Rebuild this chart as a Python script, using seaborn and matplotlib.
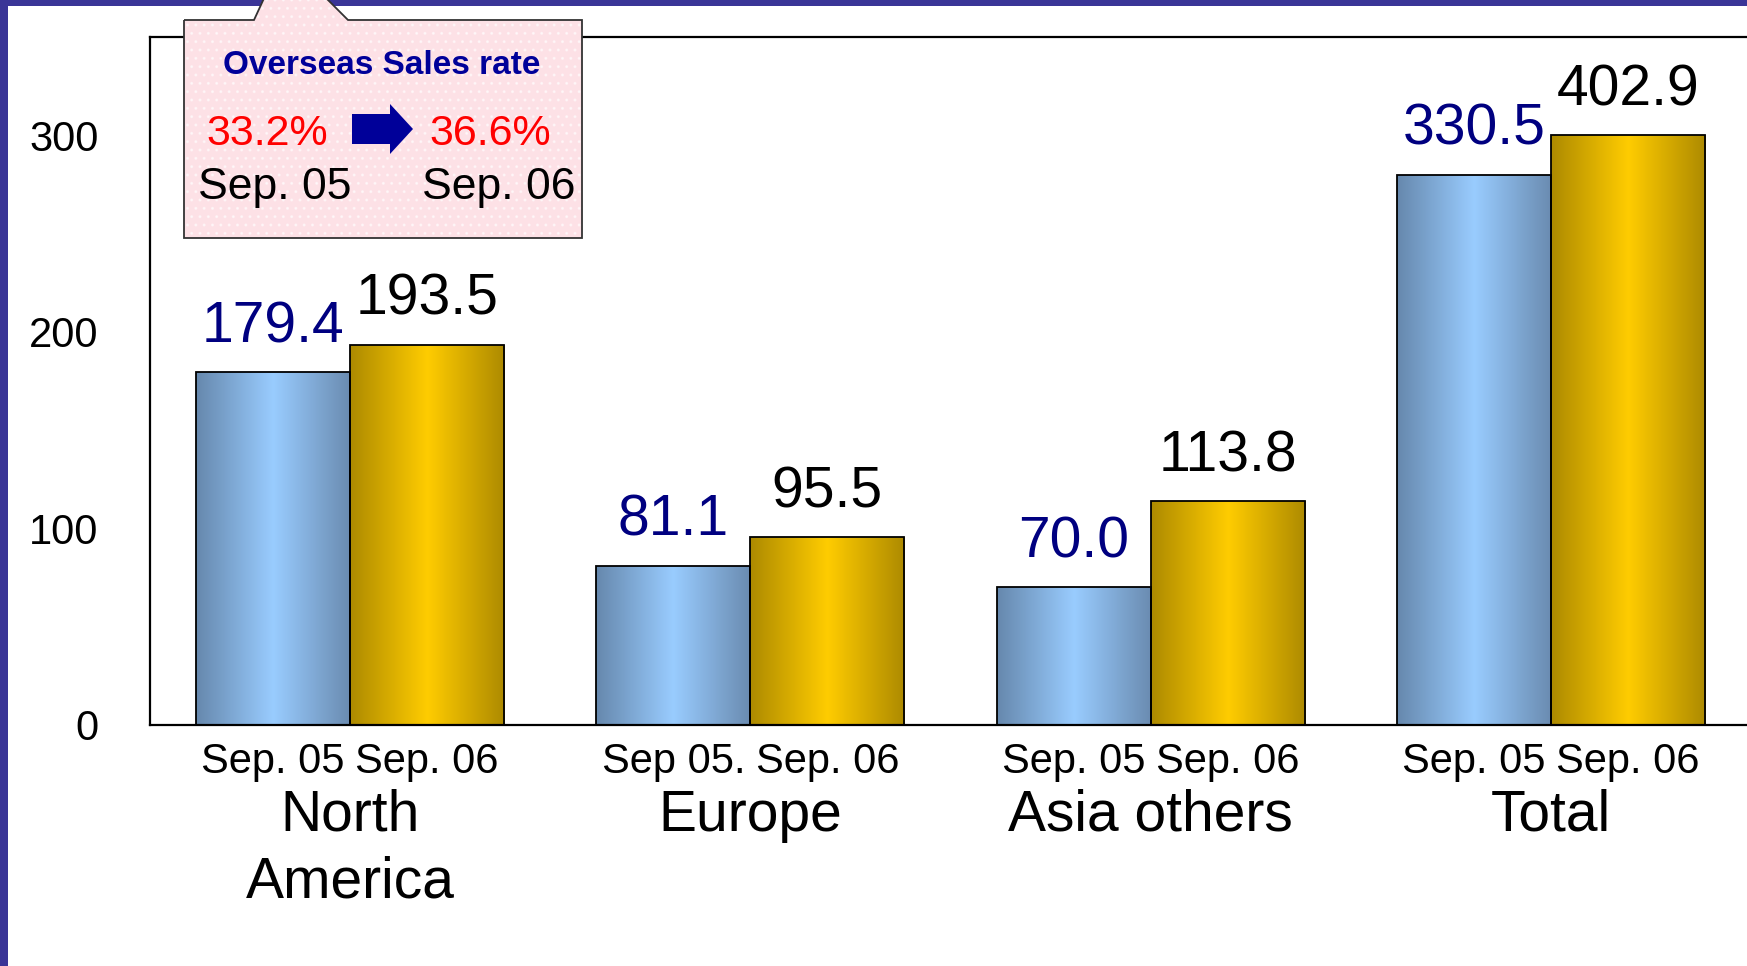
import numpy as np
import pandas as pd
import seaborn as sns
import matplotlib.pyplot as plt
from matplotlib.colors import LinearSegmentedColormap
from matplotlib.patches import Rectangle, Polygon

regions = ["North\nAmerica", "Europe", "Asia others", "Total"]
periods = ["Sep. 05", "Sep. 06"]
sep05_values = ["179.4", "81.1", "70.0", "330.5"]
sep06_values = ["193.5", "95.5", "113.8", "402.9"]
# heights as drawn in the original (the Total pair is compressed there)
sep05_heights = [179.4, 81.1, 70.0, 280.0]
sep06_heights = [193.5, 95.5, 113.8, 300.0]
bar_labels_05 = ["Sep. 05", "Sep 05.", "Sep. 05", "Sep. 05"]
bar_labels_06 = ["Sep. 06", "Sep. 06", "Sep. 06", "Sep. 06"]
yticks = [0, 100, 200, 300]
rate_title = "Overseas Sales rate"
rate_05 = "33.2%"
rate_06 = "36.6%"

W, H = 1747, 966


def fx(x):
    return x / W


def fy(y):
    return 1 - y / H


sns.set_style("white")
plt.rcParams['font.family'] = ['Liberation Sans', 'DejaVu Sans']
plt.rcParams['text.color'] = 'black'
plt.rcParams['xtick.color'] = 'black'
plt.rcParams['ytick.color'] = 'black'

fig = plt.figure(figsize=(W / 100, H / 100), dpi=100)
ax = fig.add_axes([fx(150), fy(725), fx(1751) - fx(150), fy(37) - fy(725)])

df = pd.DataFrame({
    "region": regions * 2,
    "period": [periods[0]] * 4 + [periods[1]] * 4,
    "height": sep05_heights + sep06_heights,
})
sns.barplot(data=df, x="region", y="height", hue="period", order=regions,
            hue_order=periods, palette=["#99ccff", "#ffcc00"], saturation=1,
            width=0.77, errorbar=None, edgecolor="black", linewidth=1.3,
            legend=False, ax=ax)

# gradient fill on every bar
blue_cmap = LinearSegmentedColormap.from_list("b", ["#6688ad", "#99ccff", "#6a8bb0"])
gold_cmap = LinearSegmentedColormap.from_list("g", ["#ad8a00", "#ffcc00", "#ad8a00"])
grad = np.linspace(0, 1, 256).reshape(1, -1)

bars = sorted(ax.patches, key=lambda p: p.get_x())
centers = []
labels = []
for i, p in enumerate(bars):
    g, k = divmod(i, 2)
    x0, w, h = p.get_x(), p.get_width(), p.get_height()
    im = ax.imshow(grad, extent=[x0, x0 + w, 0, h], aspect="auto",
                   cmap=blue_cmap if k == 0 else gold_cmap, zorder=0.9)
    im.set_clip_path(p)
    p.set_facecolor("none")
    centers.append(x0 + w / 2)
    labels.append(bar_labels_05[g] if k == 0 else bar_labels_06[g])
    txt = sep05_values[g] if k == 0 else sep06_values[g]
    ax.annotate(txt, xy=(x0 + w / 2, h), xytext=(0, 13), textcoords="offset points",
                ha="center", va="bottom", fontsize=41,
                color="#000080" if k == 0 else "black")

ax.set_xlim(-0.5, 3.5)
ax.set_ylim(0, 350)
ax.set_xlabel("")
ax.set_ylabel("")

ax.set_yticks(yticks)
ax.tick_params(axis="y", direction="in", length=10, width=1.2, labelsize=30, pad=37)
ax.set_xticks(centers)
ax.set_xticklabels(labels)
ax.tick_params(axis="x", length=0, labelsize=30, pad=12)
ax.set_xticks([0.5, 1.5, 2.5], minor=True)
ax.tick_params(axis="x", which="minor", direction="in", length=14, width=1.2)

for side in ["left", "top", "bottom"]:
    ax.spines[side].set_visible(True)
    ax.spines[side].set_color("black")
    ax.spines[side].set_linewidth(1.6)
ax.spines["right"].set_visible(False)

for i, r in enumerate(regions):
    ax.annotate(r, xy=(i, 0), xycoords=("data", "axes fraction"), xytext=(0, -46),
                textcoords="offset points", ha="center", va="top", fontsize=41,
                linespacing=1.3)

# blue frame on top and left
border = "#3a3597"
fig.add_artist(Rectangle((0, fy(6)), 1, 6 / H, transform=fig.transFigure,
                         facecolor=border, edgecolor="none", zorder=4))
fig.add_artist(Rectangle((0, 0), fx(8), 1, transform=fig.transFigure,
                         facecolor=border, edgecolor="none", zorder=4))

# callout box
box_pts = [(184, 20), (254, 20), (266, -6), (322, -6), (348, 20), (582, 20),
           (582, 238), (184, 238)]
box_xy = [(fx(x), fy(y)) for x, y in box_pts]
fig.add_artist(Polygon(box_xy, closed=True, transform=fig.transFigure,
                       facecolor="#fde1e6", edgecolor="none", zorder=5))
fig.add_artist(Polygon(box_xy, closed=True, transform=fig.transFigure,
                       facecolor="none", edgecolor="white", hatch="..", lw=0,
                       alpha=0.5, zorder=5.1))
fig.add_artist(Polygon(box_xy, closed=True, transform=fig.transFigure,
                       facecolor="none", edgecolor="#333333", lw=1.3, zorder=5.2))

fig.text(fx(382), fy(65), rate_title, ha="center", va="center", fontsize=24,
         fontweight="bold", color="#000099", zorder=6)
fig.text(fx(267), fy(134), rate_05, ha="center", va="center", fontsize=31,
         color="#ff0000", zorder=6)
fig.text(fx(490), fy(134), rate_06, ha="center", va="center", fontsize=31,
         color="#ff0000", zorder=6)
fig.text(fx(275), fy(188), periods[0], ha="center", va="center", fontsize=32,
         color="black", zorder=6)
fig.text(fx(499), fy(188), periods[1], ha="center", va="center", fontsize=32,
         color="black", zorder=6)

arrow_pts = [(352, 114), (390, 114), (390, 104), (413, 129), (390, 154),
             (390, 144), (352, 144)]
fig.add_artist(Polygon([(fx(x), fy(y)) for x, y in arrow_pts], closed=True,
                       transform=fig.transFigure, facecolor="#000099",
                       edgecolor="none", zorder=6))

fig.savefig("out.png", dpi=100)
